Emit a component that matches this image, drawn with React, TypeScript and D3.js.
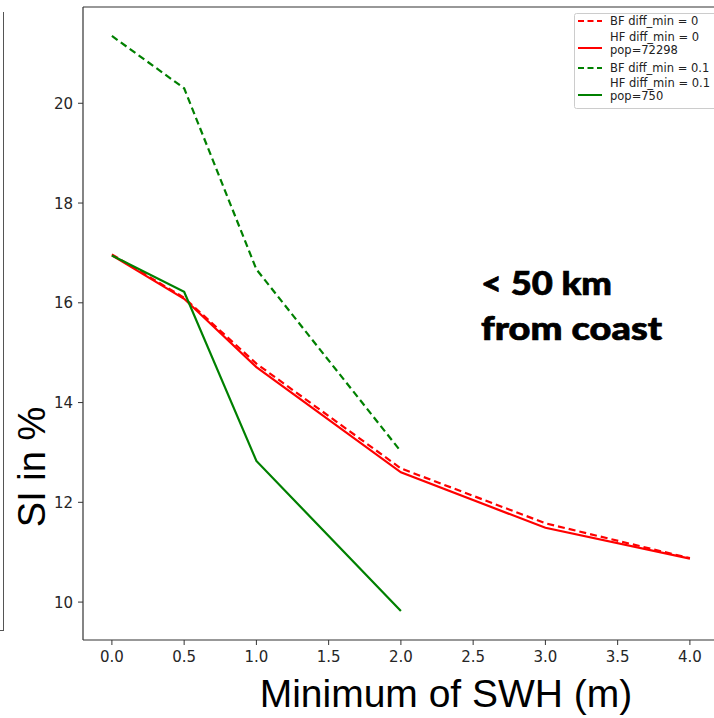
import React from "react";
import * as d3 from "d3";

const xs = [0, 0.5, 1, 2, 3, 4];
const xsShort = [0, 0.5, 1, 2];
const bf0 = [16.97, 16.1, 14.78, 12.68, 11.58, 10.88];
const hf0 = [16.95, 16.08, 14.71, 12.6, 11.49, 10.87];
const bf01 = [21.35, 20.3, 16.67, 13.02];
const hf01 = [16.95, 16.22, 12.83, 9.82];
const xTicks = [0, 0.5, 1, 1.5, 2, 2.5, 3, 3.5, 4];
const yTicks = [10, 12, 14, 16, 18, 20];

const series = [
  { name: ["BF diff_min = 0"], x: xs, y: bf0, color: "#ff0000", dash: "7,4" },
  { name: ["HF diff_min = 0", "pop=72298"], x: xs, y: hf0, color: "#ff0000", dash: "" },
  { name: ["BF diff_min = 0.1"], x: xsShort, y: bf01, color: "#008000", dash: "7,4" },
  { name: ["HF diff_min = 0.1", "pop=750"], x: xsShort, y: hf01, color: "#008000", dash: "" },
];

export default function App() {
  const W = 714, H = 718;
  const left = 83, top = 7, bottom = 640;
  const x = d3.scaleLinear().domain([-0.2, 4.2]).range([left, left + 4.4 * 144.5]);
  const y = d3.scaleLinear().domain([9.24, 21.93]).range([bottom, top]);
  const line = d3.line<[number, number]>().x(d => x(d[0])).y(d => y(d[1]));
  const tickFont = "DejaVu Sans, sans-serif";
  const legendRows = [25, 41, 72, 87];
  const legendLineY = [21, 48, 68, 95];
  return (
    <svg width={W} height={H} style={{ position: "absolute", left: 0, top: 0, background: "#fff" }}>
      <rect x={0} y={0} width={W} height={H} fill="#fff" />
      {/* neighbouring panel border */}
      <line x1={3.5} y1={12} x2={3.5} y2={630} stroke="#555" strokeWidth={1} />
      <line x1={0} y1={630.5} x2={4} y2={630.5} stroke="#555" strokeWidth={1} />
      {/* axes frame */}
      <line x1={left} y1={top} x2={W} y2={top} stroke="#333" strokeWidth={1.2} />
      <line x1={left} y1={top} x2={left} y2={bottom} stroke="#333" strokeWidth={1.2} />
      <line x1={left} y1={bottom} x2={W} y2={bottom} stroke="#333" strokeWidth={1.2} />
      {xTicks.map(t => (
        <g key={"x" + t}>
          <line x1={x(t)} x2={x(t)} y1={bottom} y2={bottom + 5} stroke="#333" />
          <text x={x(t)} y={bottom + 22} textAnchor="middle" fontFamily={tickFont} fontSize={15} fill="#262626">
            {t.toFixed(1)}
          </text>
        </g>
      ))}
      {yTicks.map(t => (
        <g key={"y" + t}>
          <line x1={left - 5} x2={left} y1={y(t)} y2={y(t)} stroke="#333" />
          <text x={left - 10} y={y(t) + 5.5} textAnchor="end" fontFamily={tickFont} fontSize={15} fill="#262626">
            {t}
          </text>
        </g>
      ))}
      {series.map((s, i) => (
        <path
          key={i}
          d={line(s.x.map((v, j) => [v, s.y[j]] as [number, number])) || ""}
          fill="none"
          stroke={s.color}
          strokeWidth={2.2}
          strokeDasharray={s.dash}
        />
      ))}
      {/* legend */}
      <rect x={574.5} y={13.5} width={150} height={95} fill="#fff" stroke="#ccc" strokeWidth={1} rx={2} />
      {series.map((s, i) => (
        <g key={"l" + i}>
          <line x1={578} x2={602} y1={legendLineY[i]} y2={legendLineY[i]} stroke={s.color} strokeWidth={2} strokeDasharray={s.dash ? "6,3.5" : ""} />
          {s.name.map((n, k) => (
            <text key={k} x={610} y={legendRows[i] + k * 13} fontFamily={tickFont} fontSize={11.5} fill="#222">
              {n}
            </text>
          ))}
        </g>
      ))}
      <text x={481} y={295} fontFamily="Lato, sans-serif" fontWeight={900} fontSize={32} fill="#000" stroke="#000" strokeWidth={0.7} textLength={131} lengthAdjust="spacingAndGlyphs">
        &lt; 50 km
      </text>
      <text x={481} y={340} fontFamily="Lato, sans-serif" fontWeight={900} fontSize={32} fill="#000" stroke="#000" strokeWidth={0.7} textLength={181} lengthAdjust="spacingAndGlyphs">
        from coast
      </text>
      <text
        transform="translate(45,467) rotate(-90)"
        textAnchor="middle"
        fontFamily="Liberation Sans, Arial, sans-serif"
        fontSize={38}
        fill="#000"
      >
        SI in %
      </text>
      <text x={446} y={707} textAnchor="middle" fontFamily="Liberation Sans, Arial, sans-serif" fontSize={39} fill="#000">
        Minimum of SWH (m)
      </text>
    </svg>
  );
}
